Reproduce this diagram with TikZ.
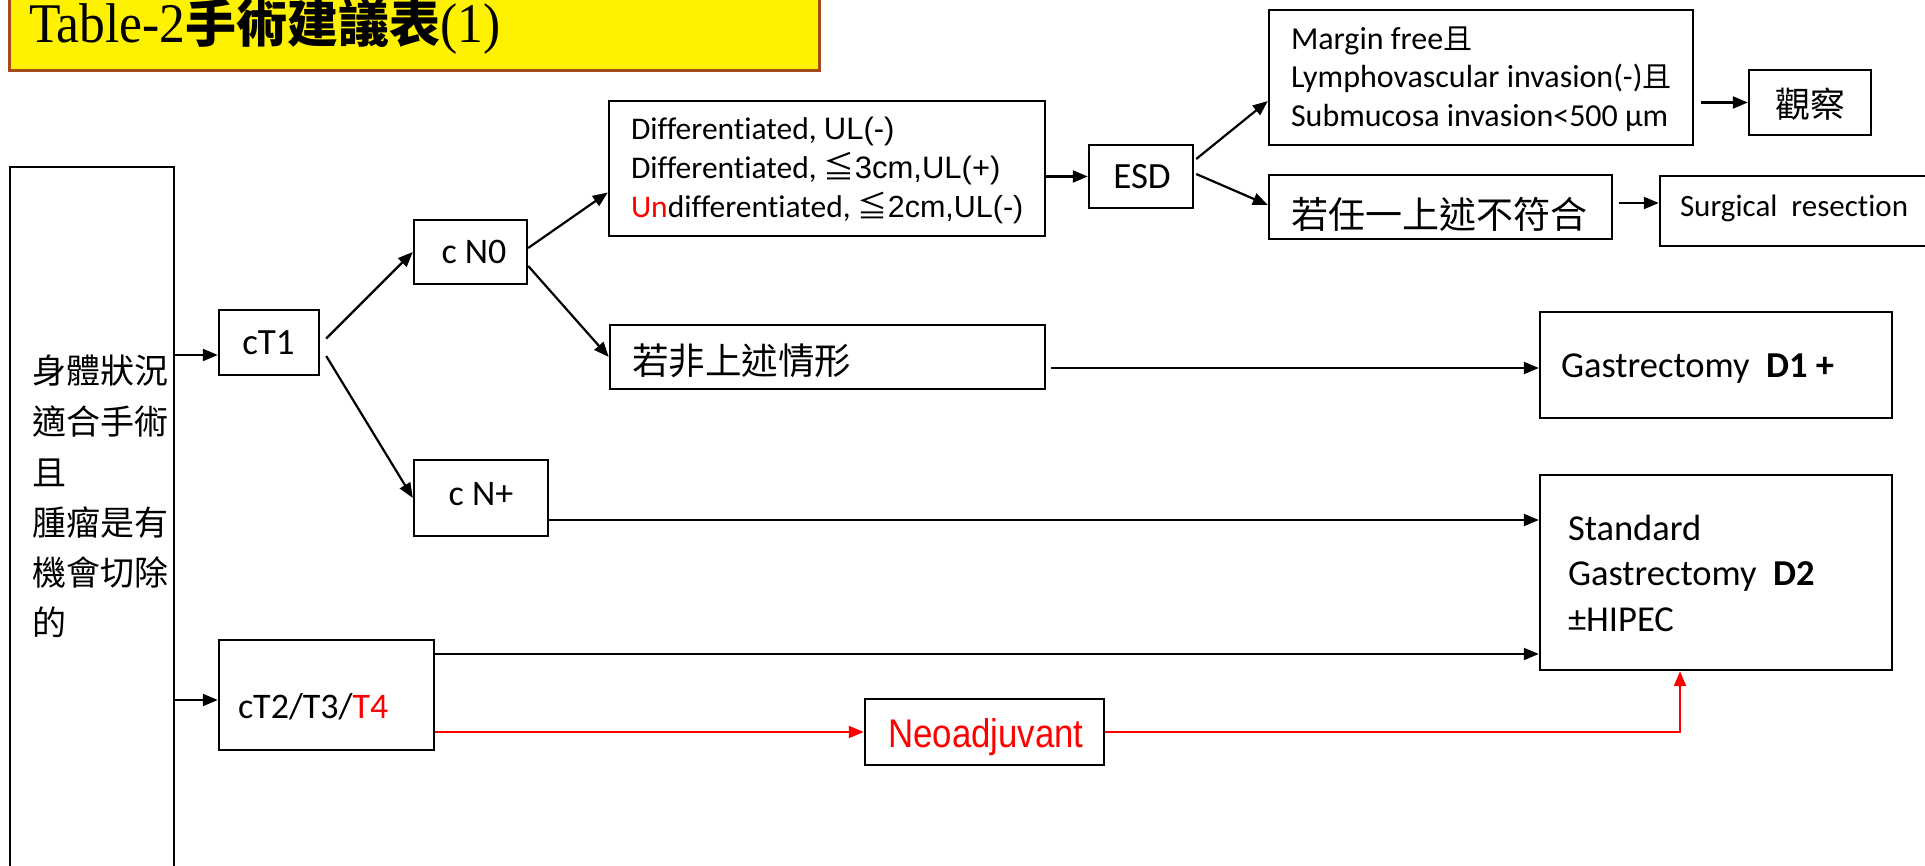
\documentclass[tikz,border=0pt]{standalone}
\usepackage{fontspec}
\setmainfont{Carlito}[Ligatures={NoCommon}]
\newfontfamily\cjk{Noto Sans CJK TC}
\newfontfamily\ser{Liberation Serif}
\newfontfamily\ari{Liberation Sans}
\usetikzlibrary{arrows.meta,calc}
\definecolor{brn}{RGB}{165,75,25}
\newcommand\fsz[1]{\fontsize{#1}{#1}\selectfont}
\begin{document}
\begin{tikzpicture}[x=1pt,y=-1pt,
  bx/.style={draw,line width=2.4pt,rectangle,inner sep=0pt},
  txt/.style={inner sep=0pt,outer sep=0pt},
  arr/.style={line width=2.2pt,-{Triangle[length=15pt,width=12pt]}},
  rarr/.style={arr,red}]
\useasboundingbox (0,0) rectangle (1925,866);
% boxes
\node[bx,fill=yellow,draw=brn,line width=3pt,minimum width=810pt,minimum height=81pt] (titlebox) at (414,30.5) {};
\node[bx,minimum width=164pt,minimum height=723pt] (leftbox) at (92,528.5) {};
\node[bx,minimum width=100pt,minimum height=65pt] (cT1) at (269,342.5) {};
\node[bx,minimum width=113pt,minimum height=64pt] (cN0) at (470.5,252) {};
\node[bx,minimum width=134pt,minimum height=76pt] (cNp) at (481,498) {};
\node[bx,minimum width=436pt,minimum height=135pt] (diff) at (827,168.5) {};
\node[bx,minimum width=435pt,minimum height=64pt] (ruofei) at (827.5,357) {};
\node[bx,minimum width=104pt,minimum height=63pt] (esd) at (1141,176.5) {};
\node[bx,minimum width=424pt,minimum height=135pt] (margin) at (1481,77.5) {};
\node[bx,minimum width=122pt,minimum height=65pt] (guancha) at (1810,102.5) {};
\node[bx,minimum width=343pt,minimum height=64pt] (ruoren) at (1440.5,207) {};
\node[bx,minimum width=280pt,minimum height=70pt] (surg) at (1800,211) {};
\node[bx,minimum width=352pt,minimum height=106pt] (done) at (1716,365) {};
\node[bx,minimum width=352pt,minimum height=195pt] (std) at (1716,572.5) {};
\node[bx,minimum width=215pt,minimum height=110pt] (cT2) at (326.5,695) {};
\node[bx,minimum width=239pt,minimum height=66pt] (neo) at (984.5,732) {};
% texts
\node[txt,anchor=base west] (tt) at (29,43) {{\ser\fsz{56}\scalebox{0.92}[1]{Table-2}}{\cjk\bfseries\fsz{51}手術建議表}{\ser\fsz{56}\scalebox{0.92}[1]{(1)}}};
\node[txt,anchor=base west] (la) at (32,384) {\cjk\fsz{34}身體狀況};
\node[txt,anchor=base west] (lb) at (32,435) {\cjk\fsz{34}適合手術};
\node[txt,anchor=base west] (lc) at (32,485) {\cjk\fsz{34}且};
\node[txt,anchor=base west] (ld) at (32,535) {\cjk\fsz{34}腫瘤是有};
\node[txt,anchor=base west] (le) at (32,585) {\cjk\fsz{34}機會切除};
\node[txt,anchor=base west] (lf) at (32,635) {\cjk\fsz{34}的};
\node[txt,anchor=base] (tcT1) at (268.5,355) {\fsz{37}cT1};
\node[txt,anchor=base] (tcN0) at (474,264) {\fsz{36}c N0};
\node[txt,anchor=base] (tcNp) at (481,505) {\fsz{36}c N+};
\node[txt,anchor=base west] (tcT2) at (238,718) {\fsz{36}cT2/T3/\textcolor{red}{T4}};
\node[txt,anchor=base] (tesd) at (1142,189) {\fsz{37}ESD};
\node[txt,anchor=base west] (da) at (631,140) {\fsz{31.5}Differentiated, {\ari\fsz{31}UL(-)}};
\node[txt,anchor=base west] (db) at (631,179) {\fsz{31.5}Differentiated, {\cjk\fsz{31}≦}{\ari\fsz{31}3cm,UL(+)}};
\node[txt,anchor=base west] (dc) at (631,218) {\fsz{31.5}\textcolor{red}{Un}differentiated, {\cjk\fsz{30}≦}{\ari\fsz{30.5}2cm,UL(-)}};
\node[txt,anchor=base west] (ma) at (1291,50) {\fsz{32}Margin free{\cjk\fsz{29}且}};
\node[txt,anchor=base west] (mb) at (1291,88) {\fsz{32}Lymphovascular invasion(-){\cjk\fsz{29}且}};
\node[txt,anchor=base west] (mc) at (1291,127) {\fsz{32}Submucosa invasion<500 µm};
\node[txt,anchor=base] (tgc) at (1810,118) {\cjk\fsz{35}觀察};
\node[txt,anchor=base west] (trr) at (1291,229) {\cjk\fsz{37}若任一上述不符合};
\node[txt,anchor=base west] (tsg) at (1680,217) {\fsz{31}Surgical\ \ resection};
\node[txt,anchor=base west] (trf) at (632,375) {\cjk\fsz{36.5}若非上述情形};
\node[txt,anchor=base west] (tdone) at (1561,378) {\fsz{36.5}Gastrectomy\ \ \textbf{D1 +}};
\node[txt,anchor=base west] (sa) at (1568,540) {\fsz{36.5}Standard};
\node[txt,anchor=base west] (sb) at (1568,585) {\fsz{36.5}Gastrectomy\ \ \textbf{D2}};
\node[txt,anchor=base west] (sc) at (1568,631) {\fsz{36.5}±HIPEC};
\node[txt,anchor=base] (tneo) at (986,747) {\ari\fsz{40}\textcolor{red}{\scalebox{0.87}[1]{Neoadjuvant}}};
% connectors
\draw[arr] (leftbox.east |- 0,355) -- (cT1.west |- 0,355);
\draw[arr] (leftbox.east |- 0,700) -- (cT2.west |- 0,700);
\draw[arr] ($(cT1.east)+(6,-4)$) -- (cN0.west);
\draw[arr] ($(cT1.east)+(6,13.5)$) -- (cNp.west);
\draw[arr] ($(cN0.east)+(0,-4)$) -- ($(diff.west)+(0,24)$);
\draw[arr] ($(cN0.east)+(0,14)$) -- (ruofei.west);
\draw[arr] (diff.east |- esd.west) -- (esd.west);
\draw[arr] ($(esd.east)+(2,-17.5)$) -- ($(margin.west)+(0,23.5)$);
\draw[arr] ($(esd.east)+(2,-2.5)$) -- ($(ruoren.west)+(0,-2)$);
\draw[arr] ($(margin.east |- guancha.west)+(7,0)$) -- (guancha.west);
\draw[arr] ($(ruoren.east)+(6,-4)$) -- ($(surg.west)+(0,-8)$);
\draw[arr] ($(ruofei.east)+(5,11)$) -- ($(done.west)+(0,3)$);
\draw[arr] (cNp.east |- 0,520) -- (std.west |- 0,520);
\draw[arr] (cT2.east |- 0,654) -- (std.west |- 0,654);
\draw[rarr] (cT2.east |- neo.west) -- (neo.west);
\draw[rarr] (neo.east) -| ($(std.south)+(-36,0)$);
\end{tikzpicture}
\end{document}
